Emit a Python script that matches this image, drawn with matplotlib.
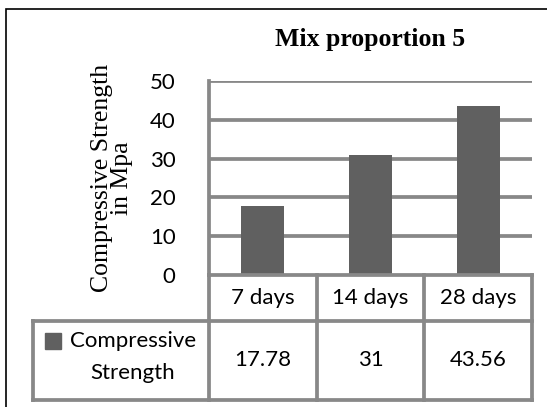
import matplotlib
matplotlib.use("Agg")
import matplotlib.pyplot as plt
from matplotlib.patches import Rectangle
from matplotlib.lines import Line2D
import matplotlib.transforms as mtransforms

# Data
categories = ["7 days", "14 days", "28 days"]
strength = [17.78, 31, 43.56]
value_labels = ["17.78", "31", "43.56"]
series_name = "Compressive\nStrength"
y_ticks = [0, 10, 20, 30, 40, 50]

title = "Mix proportion 5"
y_label = "Compressive Strength\nin Mpa"

BAR = "#606060"
GRID = "#888888"
SANS = ["Lato", "DejaVu Sans"]
SERIF = ["Liberation Serif", "DejaVu Serif"]
FS = 16

W, H = 547, 407
fig = plt.figure(figsize=(W / 100, H / 100), dpi=100)

# plot area in pixels: left 209, right 532, top 81, bottom 275
L, R, T, B = 209, 532, 81, 275
ax = fig.add_axes([L / W, 1 - B / H, (R - L) / W, (B - T) / H])

x = range(len(categories))
ax.bar(x, strength, width=0.4, color=BAR, zorder=3)
ax.set_xlim(-0.5, len(categories) - 0.5)
ax.set_ylim(0, 50)

for s in ax.spines.values():
    s.set_visible(False)
ax.set_xticks([])
ax.set_yticks(y_ticks)
ax.set_yticklabels([str(t) for t in y_ticks], family=SANS, fontsize=FS)
ax.tick_params(axis="y", length=0, pad=24)

lw = 2.7
for t in y_ticks[1:]:
    ax.axhline(t, color=GRID, lw=lw, zorder=1, solid_capstyle="butt")
ax.plot([-0.5, -0.5], [0, 50], color=GRID, lw=lw, zorder=2, clip_on=False)

ax.set_title(title, family=SERIF, fontweight="bold", fontsize=18.5, pad=25)
ax.text(-0.30, 0.5, y_label, transform=ax.transAxes, rotation=90,
        ha="center", va="center", family=SERIF, fontsize=18.5, linespacing=0.85)

# data table under the plot
tb = mtransforms.blended_transform_factory(ax.transData, ax.transAxes)
row1 = (B - 321) / (B - T)
row2 = (B - 400) / (B - T)
head_left = (32.5 - L) / (R - L)

def seg(xs, ys, transform):
    ax.add_line(Line2D(xs, ys, color=GRID, lw=lw, transform=transform,
                       clip_on=False, zorder=4, solid_capstyle="projecting"))

seg([-0.5, len(categories) - 0.5], [0, 0], tb)
for k in range(len(categories) + 1):
    seg([k - 0.5, k - 0.5], [0, row2], tb)
seg([head_left, 1], [row1, row1], ax.transAxes)
seg([head_left, 1], [row2, row2], ax.transAxes)
seg([head_left, head_left], [row1, row2], ax.transAxes)

for i, (c, v) in enumerate(zip(categories, value_labels)):
    ax.text(i, row1 / 2, c, transform=tb, ha="center", va="center",
            family=SANS, fontsize=FS)
    ax.text(i, (row1 + row2) / 2, v, transform=tb, ha="center", va="center",
            family=SANS, fontsize=FS)

# legend key and series name in the header cell
kx0 = (45 - L) / (R - L)
kx1 = (61 - L) / (R - L)
ky0 = (B - 349) / (B - T)
ky1 = (B - 333) / (B - T)
ax.add_patch(Rectangle((kx0, ky0), kx1 - kx0, ky1 - ky0, transform=ax.transAxes,
                       color=BAR, clip_on=False))
ax.text((133 - L) / (R - L), (B - 357) / (B - T), series_name, transform=ax.transAxes,
        ha="center", va="center", family=SANS, fontsize=FS, linespacing=1.75)

# outer chart border
fig.add_artist(Rectangle((6 / W, -0.1), 1.2, (1 - 9.5 / H) + 0.1, transform=fig.transFigure,
                         fill=False, edgecolor="black", lw=1.2))

fig.savefig("out.png", dpi=100)
